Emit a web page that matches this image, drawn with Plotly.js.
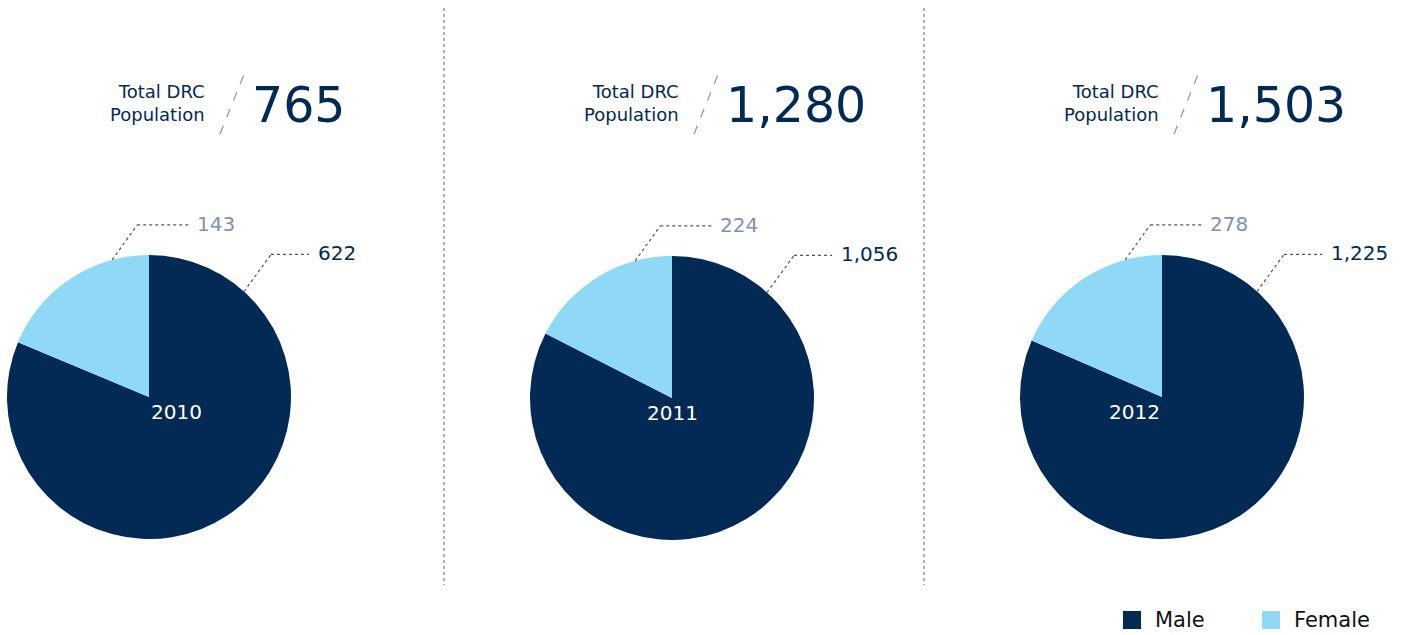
<!DOCTYPE html>
<html><head><meta charset="utf-8">
<script src="https://cdn.plot.ly/plotly-3.0.1.min.js"></script>
<style>html,body{margin:0;padding:0;background:#fff;}#chart{width:1408px;height:635px;}</style>
</head><body><div id="chart"></div>
<script>
// ---- data ----
const years = ['2010', '2011', '2012'];
const labels = ['Male', 'Female'];
const male = [622, 1056, 1225];
const female = [143, 224, 278];
const totals = [765, 1280, 1503];

// ---- layout constants (pixels) ----
const W = 1408, H = 635;
const NAVY = '#022a54', LIGHT = '#8fd8f6', LABELGREY = '#7d92b4';
const FONT = '"DejaVu Sans", "Noto Sans", sans-serif';
const centers = [[149, 397], [672, 398], [1162, 397]];
const R = 142;
const numX = [253, 727, 1207];
const fmt = v => v.toLocaleString('en-US');
const px = x => x / W, py = y => 1 - y / H;

const traces = [];
const annotations = [];
const shapes = [];

years.forEach((yr, i) => {
  const [cx, cy] = centers[i];
  traces.push({
    type: 'pie',
    labels: labels,
    values: [male[i], female[i]],
    marker: {colors: [NAVY, LIGHT], line: {width: 0}},
    sort: false,
    direction: 'clockwise',
    rotation: 0,
    textinfo: 'none',
    hoverinfo: 'label+value',
    showlegend: false,
    domain: {x: [px(cx - R), px(cx + R)], y: [py(cy + R), py(cy - R)]},
    name: yr
  });
  // year label in centre
  annotations.push({x: px(cx), y: py(cy + 15), xref: 'paper', yref: 'paper', text: yr,
    showarrow: false, font: {family: FONT, size: 20, color: '#ffffff'}});

  // leader lines + value labels
  const leaders = [
    {val: male[i], ang: 42, color: NAVY, dx: 27, dy: -37, len: 38},
    {val: female[i], ang: -15, color: LABELGREY, dx: 25, dy: -35, len: 51}
  ];
  leaders.forEach(l => {
    const a = l.ang * Math.PI / 180;
    const x0 = cx + R * Math.sin(a), y0 = cy - R * Math.cos(a);
    const x1 = x0 + l.dx, y1 = y0 + l.dy, x2 = x1 + l.len;
    shapes.push({type: 'line', xref: 'paper', yref: 'paper', x0: px(x0), y0: py(y0), x1: px(x1), y1: py(y1),
      line: {color: '#555555', width: 1.2, dash: 'dot'}});
    shapes.push({type: 'line', xref: 'paper', yref: 'paper', x0: px(x1), y0: py(y1), x1: px(x2), y1: py(y1),
      line: {color: '#555555', width: 1.2, dash: 'dot'}});
    annotations.push({x: px(x2 + 7), y: py(y1 - 1), xref: 'paper', yref: 'paper', xanchor: 'left', yanchor: 'middle',
      text: fmt(l.val), showarrow: false, font: {family: FONT, size: 20, color: l.color}});
  });

  // header: "Total DRC Population" / total
  const nx = numX[i];
  annotations.push({x: px(nx - 46), y: py(103), xref: 'paper', yref: 'paper', xanchor: 'right', yanchor: 'middle',
    align: 'right', text: 'Total DRC<br>Population', showarrow: false,
    font: {family: FONT, size: 18, color: NAVY}});
  shapes.push({type: 'line', xref: 'paper', yref: 'paper', x0: px(nx - 33), y0: py(134), x1: px(nx - 8), y1: py(72),
    line: {color: '#8294b4', width: 1.2, dash: 'dash'}});
  annotations.push({x: px(nx - 3), y: py(106), xref: 'paper', yref: 'paper', xanchor: 'left', yanchor: 'middle',
    text: fmt(totals[i]), showarrow: false, font: {family: FONT, size: 49, color: NAVY}});
});

// dotted separators
[444, 924].forEach(x => {
  shapes.push({type: 'line', xref: 'paper', yref: 'paper', x0: px(x), y0: py(8), x1: px(x), y1: py(585),
    line: {color: '#50627f', width: 1, dash: 'dot'}});
});

// legend (drawn: square swatches + labels)
const legendX = [1123, 1262];
const legendColors = [NAVY, LIGHT];
labels.forEach((lab, k) => {
  const x = legendX[k];
  shapes.push({type: 'rect', xref: 'paper', yref: 'paper', x0: px(x), x1: px(x + 18), y0: py(629), y1: py(611),
    fillcolor: legendColors[k], line: {width: 0}});
  annotations.push({x: px(x + 30), y: py(620), xref: 'paper', yref: 'paper', xanchor: 'left', yanchor: 'middle',
    text: lab, showarrow: false, font: {family: FONT, size: 21, color: '#111111'}});
});

const layout = {
  width: W, height: H,
  margin: {l: 0, r: 0, t: 0, b: 0},
  paper_bgcolor: '#ffffff',
  showlegend: false,
  annotations: annotations,
  shapes: shapes
};

Plotly.newPlot('chart', traces, layout, {displayModeBar: false, staticPlot: true});
</script>
</body></html>
